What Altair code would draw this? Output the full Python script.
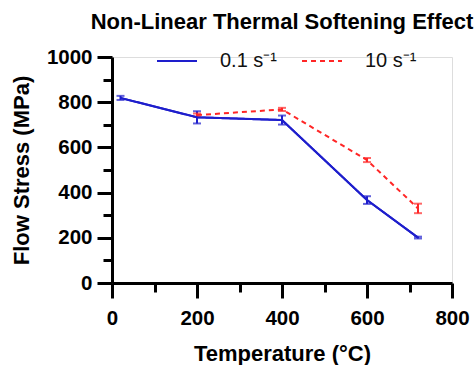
import altair as alt
import pandas as pd

# ---- data ----
series_labels = ["0.1 s⁻¹", "10 s⁻¹"]
series_colors = ["#1e1ecc", "#ff2626"]

temp_slow = [20, 200, 400, 600, 720]
stress_slow = [819, 733, 721, 367, 201]
err_slow = [9, 27, 20, 17, 4]

temp_fast = [200, 400, 600, 720]
stress_fast = [743, 768, 544, 330]
err_fast = [7, 7, 9, 21]

x_major = [0, 200, 400, 600, 800]
x_minor = [100, 300, 500, 700]
y_major = [0, 200, 400, 600, 800, 1000]
y_minor = [100, 300, 500, 700, 900]

FONT = "Liberation Sans"

rows = []
for t, s, e in zip(temp_slow, stress_slow, err_slow):
    rows.append({"series": series_labels[0], "temp": t, "stress": s, "lo": s - e, "hi": s + e})
for t, s, e in zip(temp_fast, stress_fast, err_fast):
    rows.append({"series": series_labels[1], "temp": t, "stress": s, "lo": s - e, "hi": s + e})
df = pd.DataFrame(rows)

common = dict(
    labelOverlap=False,
    labelFlush=False,
    grid=False,
    domainWidth=3,
    domainColor="black",
    tickWidth=3,
    tickColor="black",
    labelFont=FONT,
    labelFontSize=20.5,
    labelFontWeight="bold",
    labelColor="black",
    titleFont=FONT,
    titleFontSize=22,
    titleFontWeight="bold",
    titleColor="black",
    format="d",
)

x_axis = alt.Axis(values=x_major, title="Temperature (°C)", tickSize=15, orient="bottom",
                  labelPadding=10.5, titlePadding=14.5, **common)
y_axis = alt.Axis(values=y_major, title="Flow Stress (MPa)", tickSize=15, orient="left",
                  labelPadding=5, titlePadding=12.5, **common)

x_minor_axis = alt.Axis(values=x_minor, title=None, labels=False, domain=False, orient="bottom",
                        tickSize=9, tickWidth=3, tickColor="black", grid=False)
y_minor_axis = alt.Axis(values=y_minor, title=None, labels=False, domain=False, orient="left",
                        tickSize=9, tickWidth=3, tickColor="black", grid=False)

x_scale = alt.Scale(domain=[0, 800], nice=False, zero=False)
y_scale = alt.Scale(domain=[0, 1000], nice=False)

legend = alt.Legend(
    orient="none",
    legendX=44,
    legendY=-17,
    direction="horizontal",
    title=None,
    symbolType="stroke",
    symbolSize=1600,
    symbolStrokeWidth=2,
    labelFont=FONT,
    labelFontSize=20,
    labelFontWeight="normal",
    labelColor="#111111",
    labelOffset=22,
    columnPadding=20,
    padding=0,
)

base = alt.Chart(df)

lines = base.mark_line(strokeWidth=2).encode(
    x=alt.X("temp:Q", scale=x_scale, axis=x_axis),
    y=alt.Y("stress:Q", scale=y_scale, axis=y_axis),
    color=alt.Color("series:N", scale=alt.Scale(domain=series_labels, range=series_colors),
                    legend=legend),
    strokeDash=alt.StrokeDash("series:N",
                              scale=alt.Scale(domain=series_labels, range=[[1, 0], [5, 4]]),
                              legend=legend),
)

layers = [lines]
for lab, col in zip(series_labels, series_colors):
    sub = base.transform_filter(alt.datum.series == lab)
    rule = sub.mark_rule(color=col, strokeWidth=2).encode(
        x="temp:Q", y="lo:Q", y2="hi:Q"
    )
    cap_lo = sub.mark_tick(color=col, orient="horizontal", size=8, thickness=2).encode(
        x="temp:Q", y="lo:Q"
    )
    cap_hi = sub.mark_tick(color=col, orient="horizontal", size=8, thickness=2).encode(
        x="temp:Q", y="hi:Q"
    )
    layers += [rule, cap_lo, cap_hi]

# blue line redrawn on top of the red dashed one
blue_top = base.transform_filter(alt.datum.series == series_labels[0]).mark_line(
    color=series_colors[0], strokeWidth=2
).encode(x="temp:Q", y="stress:Q")
layers.append(blue_top)

main = alt.layer(*layers)

minor = base.mark_point(opacity=0).encode(
    x=alt.X("temp:Q", scale=x_scale, axis=x_minor_axis),
    y=alt.Y("stress:Q", scale=y_scale, axis=y_minor_axis),
)

chart = (
    alt.layer(main, minor)
    .resolve_axis(x="independent", y="independent")
    .properties(
        width=340,
        height=226,
        title=alt.TitleParams(
            "Non-Linear Thermal Softening Effect",
            font=FONT,
            fontSize=22,
            fontWeight="bold",
            color="black",
            anchor="middle",
            offset=6,
        ),
        autosize=alt.AutoSizeParams(type="none"),
        padding={"left": 112, "top": 57, "right": 22, "bottom": 82},
    )
    .configure_view(stroke=None)
    .configure(background="white")
)

chart.save("out.html", embed_options={"renderer": "svg", "actions": False})
